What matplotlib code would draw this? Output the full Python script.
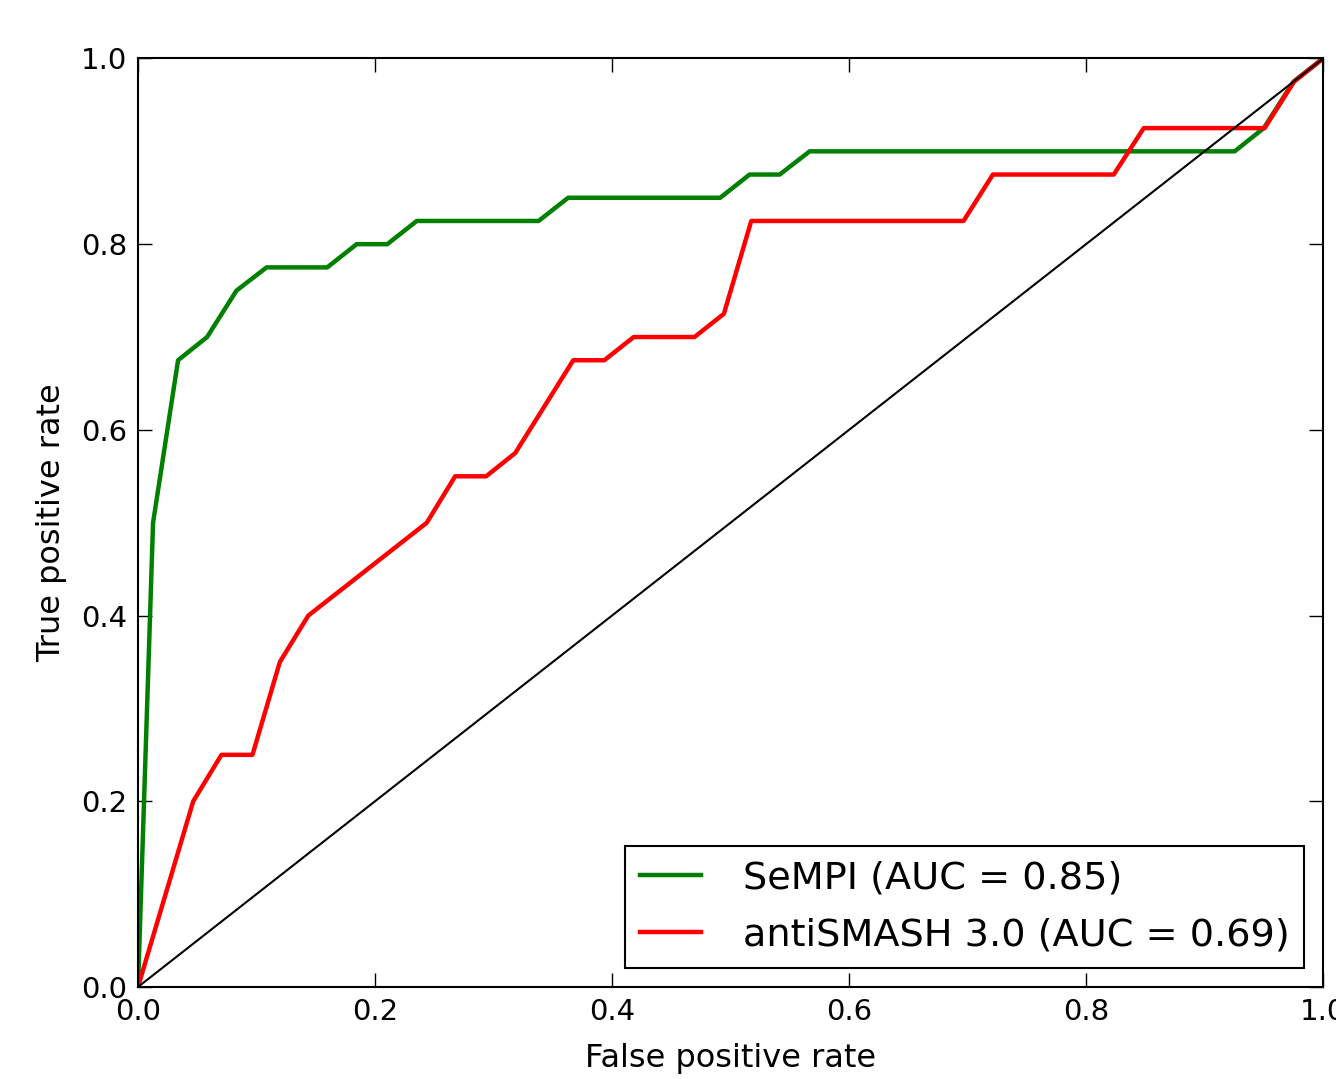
import matplotlib
matplotlib.use('Agg')
import matplotlib.pyplot as plt

# ROC curve vertices
sempi_fpr = [0.0, 0.0127, 0.0338, 0.0583, 0.0831, 0.1085, 0.1597, 0.1845, 0.2104,
             0.2352, 0.338, 0.3630, 0.4913, 0.5161, 0.5415, 0.5668, 0.9254, 0.950,
             0.975, 1.0]
sempi_tpr = [0.0, 0.5, 0.675, 0.7, 0.75, 0.775, 0.775, 0.8, 0.8,
             0.825, 0.825, 0.85, 0.85, 0.875, 0.875, 0.9, 0.9, 0.925,
             0.975, 1.0]

anti_fpr = [0.0, 0.0466, 0.0704, 0.0966, 0.1197, 0.1437, 0.2437, 0.2676, 0.2938,
            0.3183, 0.3673, 0.3935, 0.4183, 0.4696, 0.4944, 0.5175, 0.6966, 0.7214,
            0.8234, 0.8487, 0.9507, 0.9755, 1.0]
anti_tpr = [0.0, 0.2, 0.25, 0.25, 0.35, 0.4, 0.5, 0.55, 0.55,
            0.575, 0.675, 0.675, 0.7, 0.7, 0.725, 0.825, 0.825, 0.875,
            0.875, 0.925, 0.925, 0.975, 1.0]

labels = ['SeMPI (AUC = 0.85)', 'antiSMASH 3.0 (AUC = 0.69)']

fig = plt.figure(figsize=(13.36, 10.79), dpi=100)
ax = fig.add_axes([0.1033, 0.0853, 0.8870, 0.8605])

ax.plot(sempi_fpr, sempi_tpr, color='green', lw=3.2, label=labels[0])
ax.plot(anti_fpr, anti_tpr, color='red', lw=3.2, label=labels[1])
ax.plot([0, 1], [0, 1], color='black', lw=1.5)

ax.set_xlim(0, 1)
ax.set_ylim(0, 1)
ax.set_xticks([0.0, 0.2, 0.4, 0.6, 0.8, 1.0])
ax.set_yticks([0.0, 0.2, 0.4, 0.6, 0.8, 1.0])
ax.tick_params(direction='in', length=10, width=1, top=True, right=True,
               labelsize=21, pad=8)
for s in ax.spines.values():
    s.set_linewidth(1.5)

ax.set_xlabel('False positive rate', fontsize=23, labelpad=12)
ax.set_ylabel('True positive rate', fontsize=23, labelpad=10)

leg = ax.legend(loc='lower right', fontsize=27.5, fancybox=False,
                borderaxespad=0.5, handlelength=1.6, handletextpad=1.1,
                borderpad=0.38, labelspacing=0.55)
leg.get_frame().set_edgecolor('black')
leg.get_frame().set_linewidth(1.5)
leg.get_frame().set_alpha(1)

plt.savefig('out.png', dpi=100)
